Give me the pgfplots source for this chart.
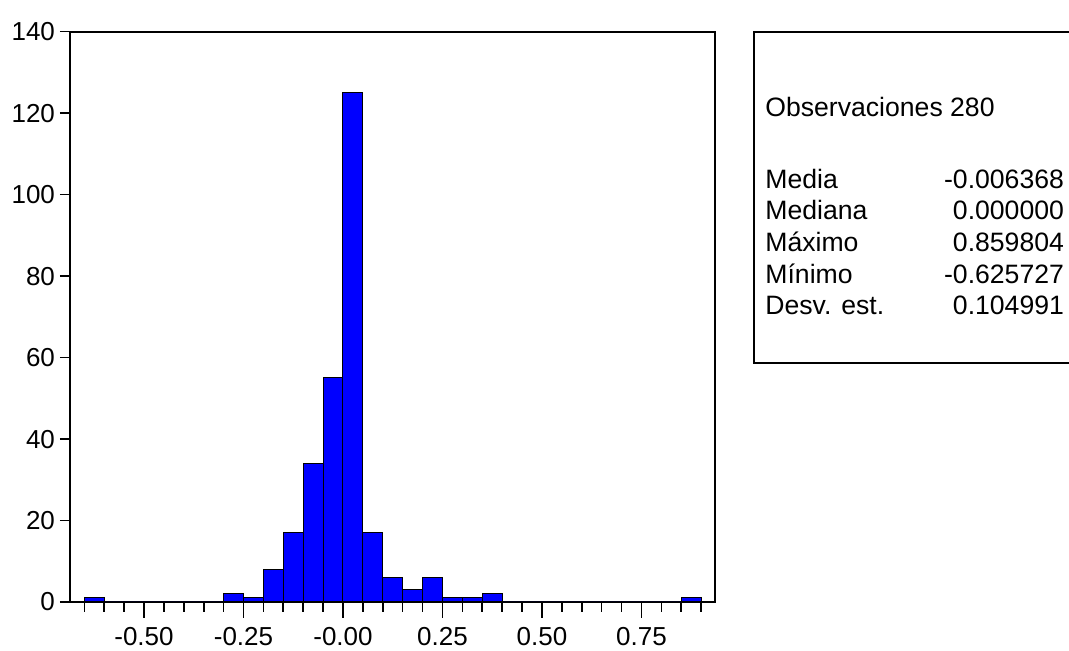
\documentclass[border=0pt]{standalone}
\usepackage{fontspec}
\setmainfont{Liberation Sans}
\usepackage{pgfplots}
\pgfplotsset{compat=1.18}

\begin{document}
\begin{tikzpicture}
\useasboundingbox (0,0) rectangle (534.5pt,325.5pt);
\begin{axis}[
    at={(35pt,24.5pt)}, anchor=south west,
    scale only axis, width=322.5pt, height=285.15pt,
    xmin=-0.686, xmax=0.935, ymin=0, ymax=140,
    axis line style={line width=1pt},
    tick align=outside, tick pos=left,
    xtick={-0.5,-0.25,0,0.25,0.5,0.75},
    xticklabels={-0.50,-0.25,-0.00,0.25,0.50,0.75},
    minor xtick={-0.65,-0.6,-0.55,-0.5,-0.45,-0.4,-0.35,-0.3,-0.25,-0.2,-0.15,-0.1,-0.05,0,
                 0.05,0.1,0.15,0.2,0.25,0.3,0.35,0.4,0.45,0.5,0.55,0.6,0.65,0.7,0.75,0.8,0.85,0.9},
    ytick={0,20,40,60,80,100,120,140},
    minor ytick={0,20,40,60,80,100,120,140},
    major y tick style={draw=none},
    major tick length=8pt, minor tick length=5pt,
    tick style={line width=0.8pt, black},
    tick label style={font=\fontsize{13}{15}\selectfont},
    x tick label style={yshift=-1pt},
    y tick label style={xshift=4pt},
    /pgf/number format/assume math mode=true,
]
% histogram counts, bins of width 0.05 (left edges)
\addplot[ybar interval, fill=blue, draw=black, line width=0.5pt] coordinates {
    (-0.65,1) (-0.60,0) (-0.55,0) (-0.50,0) (-0.45,0) (-0.40,0) (-0.35,0)
    (-0.30,2) (-0.25,1) (-0.20,8) (-0.15,17) (-0.10,34) (-0.05,55)
    (0.00,125) (0.05,17) (0.10,6) (0.15,3) (0.20,6) (0.25,1) (0.30,1) (0.35,2)
    (0.40,0) (0.45,0) (0.50,0) (0.55,0) (0.60,0) (0.65,0) (0.70,0) (0.75,0) (0.80,0)
    (0.85,1) (0.90,0)
};
\end{axis}

% statistics panel
\draw[line width=1pt] (540pt,309.65pt) -- (377pt,309.65pt) -- (377pt,144pt) -- (540pt,144pt);
\begin{scope}[every node/.style={inner sep=0pt, font=\fontsize{13.3}{15}\selectfont}]
\node[anchor=base west] at (382.5pt,267.15pt) {Observaciones 280};
\node[anchor=base west] at (382.5pt,231.35pt) {Media};
\node[anchor=base west] at (382.5pt,215.5pt) {Mediana};
\node[anchor=base west] at (382.5pt,199.65pt) {Máximo};
\node[anchor=base west] at (382.5pt,183.85pt) {Mínimo};
\node[anchor=base west] at (382.5pt,168pt) {Desv. est.};
\node[anchor=base east] at (532.15pt,231.35pt) {-0.006368};
\node[anchor=base east] at (532.15pt,215.5pt) {0.000000};
\node[anchor=base east] at (532.15pt,199.65pt) {0.859804};
\node[anchor=base east] at (532.15pt,183.85pt) {-0.625727};
\node[anchor=base east] at (532.15pt,168pt) {0.104991};
\end{scope}
\end{tikzpicture}
\end{document}
